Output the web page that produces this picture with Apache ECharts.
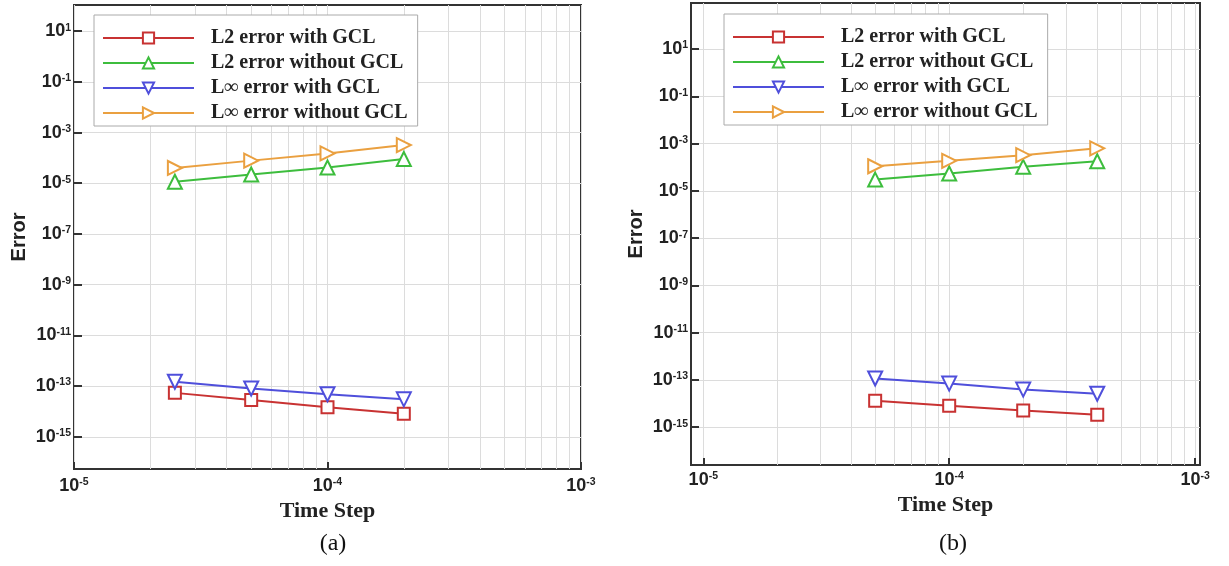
<!DOCTYPE html>
<html>
<head>
<meta charset="utf-8">
<title>Error vs Time Step</title>
<script src="https://cdn.jsdelivr.net/npm/echarts@6/dist/echarts.min.js"></script>
<style>
  html, body { margin: 0; padding: 0; background: #fff; }
  #chart { width: 1229px; height: 566px; }
</style>
</head>
<body>
<div id="chart"></div>
<script>
// Panel (a)
const stepsA = [2.5e-5, 5e-5, 1e-4, 2e-4];
const l2GclA = [5.4e-14, 2.8e-14, 1.45e-14, 8.2e-15];
const l2NoGclA = [1.15e-5, 2.2e-5, 4.2e-5, 9.0e-5];
const linfGclA = [1.48e-13, 8.1e-14, 4.8e-14, 3.0e-14];
const linfNoGclA = [4.0e-5, 7.8e-5, 1.5e-4, 3.2e-4];

// Panel (b)
const stepsB = [5e-5, 1e-4, 2e-4, 4e-4];
const l2GclB = [1.3e-14, 8.1e-15, 5.1e-15, 3.4e-15];
const l2NoGclB = [3.0e-5, 5.4e-5, 1.04e-4, 1.8e-4];
const linfGclB = [1.15e-13, 7.0e-14, 3.9e-14, 2.6e-14];
const linfNoGclB = [1.1e-4, 1.87e-4, 3.25e-4, 6.3e-4];

// Tick values
const yTicks = [1e1, 1e-1, 1e-3, 1e-5, 1e-7, 1e-9, 1e-11, 1e-13, 1e-15];
const xTicks = [1e-5, 1e-4, 1e-3];
const xGrid = [
  1e-5, 2e-5, 3e-5, 4e-5, 5e-5, 6e-5, 7e-5, 8e-5, 9e-5,
  1e-4, 2e-4, 3e-4, 4e-4, 5e-4, 6e-4, 7e-4, 8e-4, 9e-4, 1e-3
];

const seriesNames = ['L2 error with GCL', 'L2 error without GCL', 'L\u221e error with GCL', 'L\u221e error without GCL'];
const colors = ['#c83232', '#3dbd3d', '#4f4fdb', '#eaa040'];
const symbols = [
  'rect',
  'triangle',
  'path://M0,0 L10,0 L5,9 Z',
  'path://M0,0 L9,5 L0,10 Z'
];
const symbolSizes = [12, 14, 14, 14];

const panels = [
  { steps: stepsA, values: [l2GclA, l2NoGclA, linfGclA, linfNoGclA],
    grid: { left: 74, top: 5, width: 507, height: 464 },
    xRange: [-5, -3], yRange: [-16.27, 2.03],
    labelMargin: 8, nameGap: 22,
    legend: { left: 94, top: 15 }, caption: '(a)', captionX: 328 },
  { steps: stepsB, values: [l2GclB, l2NoGclB, linfGclB, linfNoGclB],
    grid: { left: 691, top: 3, width: 509, height: 462 },
    xRange: [-5.05, -2.98], yRange: [-16.6, 2.95],
    labelMargin: 6, nameGap: 24,
    legend: { left: 724, top: 14 }, caption: '(b)', captionX: 948 }
];

const powLabel = v => {
  const e = Math.round(Math.log10(v));
  return '{b|10}{s|' + e + '}';
};
const richTick = {
  b: { fontFamily: 'Liberation Sans', fontWeight: 'bold', fontSize: 18, color: '#222' },
  s: { fontFamily: 'Liberation Sans', fontWeight: 'bold', fontSize: 10.5, color: '#222', verticalAlign: 'top' }
};

const grids = [], xAxes = [], yAxes = [], series = [], legends = [], titles = [];

panels.forEach((p, i) => {
  grids.push(Object.assign({
    show: true, borderColor: '#333', borderWidth: 2, backgroundColor: '#fff'
  }, p.grid));

  const xmin = Math.pow(10, p.xRange[0]), xmax = Math.pow(10, p.xRange[1]);
  const ymin = Math.pow(10, p.yRange[0]), ymax = Math.pow(10, p.yRange[1]);

  // labelled x axis
  xAxes.push({
    type: 'log', gridIndex: i, min: xmin, max: xmax, position: 'bottom',
    name: 'Time Step', nameLocation: 'middle', nameGap: p.nameGap,
    nameTextStyle: { fontFamily: 'Liberation Serif', fontWeight: 'bold', fontSize: 22, color: '#222' },
    axisLine: { show: false },
    axisTick: { show: true, inside: true, length: 7, customValues: xTicks, lineStyle: { color: '#333', width: 2 } },
    axisLabel: { customValues: xTicks, formatter: powLabel, rich: richTick, margin: p.labelMargin, hideOverlap: false, showMinLabel: true, showMaxLabel: true },
    splitLine: { show: false }
  });
  // x grid lines at 1..9 of each decade
  xAxes.push({
    type: 'log', gridIndex: i, min: xmin, max: xmax, position: 'bottom',
    axisLine: { show: false },
    axisTick: { show: false, customValues: xGrid },
    axisLabel: { show: false },
    splitLine: { show: true, lineStyle: { color: '#dcdcdc', width: 1 } }
  });

  yAxes.push({
    type: 'log', gridIndex: i, min: ymin, max: ymax,
    name: 'Error', nameLocation: 'middle', nameRotate: 90, nameGap: 45,
    nameTextStyle: { fontFamily: 'Liberation Sans', fontWeight: 'bold', fontSize: 20, color: '#222' },
    axisLine: { show: false },
    axisTick: { show: true, inside: true, length: 8, customValues: yTicks, lineStyle: { color: '#333', width: 2 } },
    axisLabel: { customValues: yTicks, formatter: powLabel, rich: richTick, margin: 3, showMinLabel: true, showMaxLabel: true },
    splitLine: { show: true, lineStyle: { color: '#dcdcdc', width: 1 } }
  });

  seriesNames.forEach((name, k) => {
    series.push({
      name: name, type: 'line',
      xAxisIndex: i * 2, yAxisIndex: i,
      data: p.steps.map((s, j) => [s, p.values[k][j]]),
      symbol: symbols[k], symbolSize: symbolSizes[k],
      showAllSymbol: true,
      lineStyle: { color: colors[k], width: 2 },
      itemStyle: { color: '#fff', borderColor: colors[k], borderWidth: 2 },
      emphasis: { disabled: true },
      z: 3
    });
  });

  legends.push({
    left: p.legend.left, top: p.legend.top, orient: 'vertical',
    data: seriesNames,
    itemWidth: 91, itemHeight: 14, itemGap: 5,
    backgroundColor: '#fff', borderColor: '#aaa', borderWidth: 1, borderRadius: 0,
    padding: [13, 10, 3, 8],
    selectedMode: false,
    textStyle: { fontFamily: 'Liberation Serif', fontWeight: 'bold', fontSize: 20, color: '#222', padding: [0, 0, 0, 12] }
  });

  titles.push({
    text: p.caption, left: p.captionX, top: 527, textAlign: 'center',
    textStyle: { fontFamily: 'Liberation Serif', fontWeight: 'normal', fontSize: 24, color: '#111' }
  });
});

const chart = echarts.init(document.getElementById('chart'), null, { renderer: 'canvas' });
chart.setOption({
  animation: false,
  backgroundColor: '#fff',
  title: titles,
  grid: grids,
  xAxis: xAxes,
  yAxis: yAxes,
  legend: legends,
  series: series
});
</script>
</body>
</html>
